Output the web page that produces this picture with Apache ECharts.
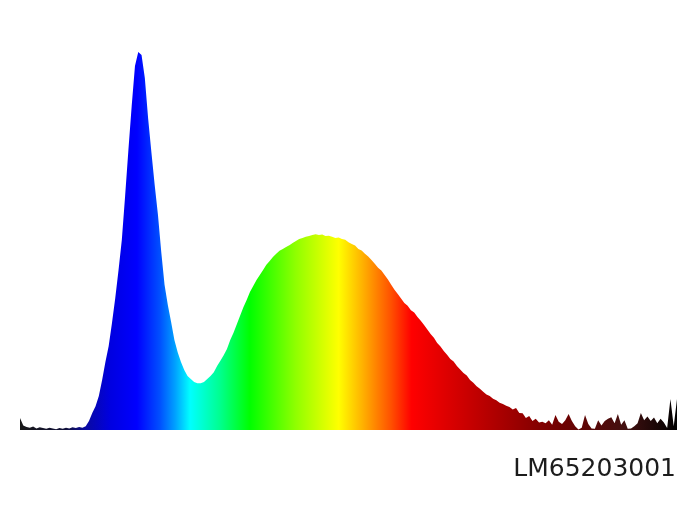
<!DOCTYPE html>
<html>
<head>
<meta charset="utf-8">
<script src="https://cdn.jsdelivr.net/npm/echarts@6/dist/echarts.min.js"></script>
<style>
html,body{margin:0;padding:0;background:#fff;}
#chart{width:700px;height:525px;}
</style>
</head>
<body>
<div id="chart"></div>
<script>
// Wavelength axis (nm), 2 nm sampling from 380 to 780
const wlStart = 380, wlEnd = 780, wlStep = 2;
const wavelengths = [];
for (let w = wlStart; w <= wlEnd; w += wlStep) wavelengths.push(w);

// Relative spectral intensity
const noiseBlue = [0.032,0.012,0.008,0.006,0.009,0.004,0.007,0.005,0.003,0.006,0.004,0.002,0.005,0.003,0.006,0.004,0.007,0.005,0.008,0.006];
const mainBand = [
0.010,0.024,0.045,0.063,0.090,0.132,0.180,0.222,0.283,0.349,
0.423,0.503,0.619,0.741,0.857,0.963,1.000,0.992,0.931,0.825,
0.735,0.648,0.569,0.471,0.384,0.331,0.286,0.238,0.206,0.180,
0.159,0.143,0.135,0.127,0.124,0.124,0.127,0.135,0.143,0.153,
0.169,0.183,0.198,0.214,0.238,0.257,0.280,0.302,0.325,0.344,
0.365,0.381,0.397,0.410,0.423,0.437,0.447,0.458,0.466,0.474,
0.479,0.484,0.489,0.495,0.500,0.505,0.508,0.511,0.513,0.516,
0.518,0.516,0.517,0.513,0.514,0.511,0.508,0.509,0.505,0.503,
0.497,0.492,0.488,0.479,0.475,0.466,0.459,0.450,0.440,0.429,
0.422,0.410,0.398,0.384,0.371,0.360,0.348,0.336,0.329,0.317,
0.311,0.299,0.289,0.278,0.266,0.254,0.244,0.230,0.221,0.209,
0.199,0.188,0.181,0.169,0.160,0.151,0.144,0.132,0.125,0.116,
0.109,0.101,0.094,0.090,0.083,0.079,0.072,0.069,0.064,0.061,
0.054,0.058,0.045,0.044,0.032,0.037,0.024,0.030,0.020,0.022
];
const noiseRed = [0.018,0.026,0.014,0.040,0.022,0.016,0.026,0.042,0.024,0.010,
0.001,0.006,0.040,0.016,0.004,0.003,0.026,0.012,0.024,0.030,
0.034,0.018,0.042,0.014,0.026,0.003,0.004,0.010,0.018,0.045,
0.026,0.036,0.024,0.033,0.018,0.030,0.020,0.005,0.082,0.010,0.082];
const intensity = noiseBlue.concat(mainBand, noiseRed);

const label = 'LM65203001';

const chart = echarts.init(document.getElementById('chart'), null, {renderer:'canvas'});
const spectrum = new echarts.graphic.LinearGradient(0, 0, 1, 0, [
  {offset:0.000, color:'#181818'},
  {offset:0.070, color:'#10103a'},
  {offset:0.099, color:'#0a0aa0'},
  {offset:0.137, color:'#0000e0'},
  {offset:0.178, color:'#0000ff'},
  {offset:0.213, color:'#0050ff'},
  {offset:0.236, color:'#00a0ff'},
  {offset:0.259, color:'#00ffff'},
  {offset:0.304, color:'#00ff90'},
  {offset:0.350, color:'#00ff00'},
  {offset:0.420, color:'#90ff00'},
  {offset:0.485, color:'#ffff00'},
  {offset:0.522, color:'#ffb000'},
  {offset:0.565, color:'#ff5000'},
  {offset:0.596, color:'#ff0000'},
  {offset:0.670, color:'#d00000'},
  {offset:0.746, color:'#a00000'},
  {offset:0.822, color:'#700000'},
  {offset:0.924, color:'#401010'},
  {offset:1.000, color:'#000000'}
]);

chart.setOption({
  animation:false,
  backgroundColor:'#ffffff',
  title:{
    text:label,
    right:24,
    top:457,
    padding:0,
    textStyle:{fontFamily:'DejaVu Sans', fontSize:25, fontWeight:'normal', color:'#1c1c1c'}
  },
  grid:{left:20, right:23, top:52, bottom:95},
  xAxis:{type:'value', min:wlStart, max:wlEnd, show:false},
  yAxis:{type:'value', min:0, max:1, show:false},
  series:[{
    type:'line',
    data:wavelengths.map((w,i)=>[w,intensity[i]]),
    showSymbol:false,
    smooth:false,
    silent:true,
    lineStyle:{width:0},
    areaStyle:{color:spectrum, opacity:1}
  }]
});
</script>
</body>
</html>
